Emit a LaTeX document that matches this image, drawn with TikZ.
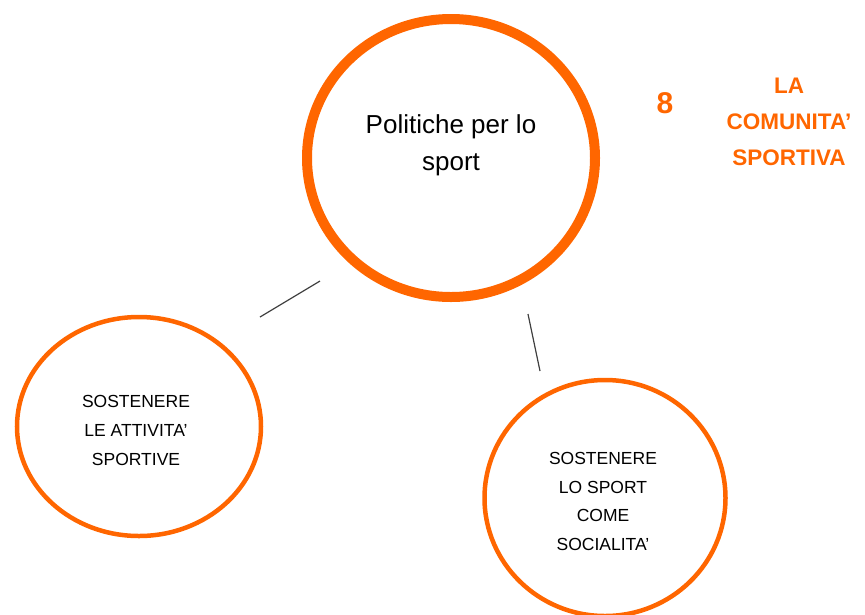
\documentclass[tikz,border=0pt]{standalone}
\usepackage{fontspec}
\setmainfont{Liberation Sans}
\usetikzlibrary{shapes.geometric}
\definecolor{orng}{HTML}{FF6600}
\tikzset{
  bubble/.style={ellipse, draw=orng, fill=white, inner sep=0pt},
  label/.style={align=center, anchor=base, text=black},
  link/.style={draw=black!75, line width=1.2pt},
  title/.style={text=orng, font=\bfseries\fontsize{22.5}{36}\selectfont, align=center, anchor=base}
}
\begin{document}
\begin{tikzpicture}[x=1pt,y=-1pt]
\useasboundingbox (0,0) rectangle (865,614);
\node[bubble, line width=10pt, minimum width=288pt, minimum height=278pt] (main) at (451,158) {};
\node[label, font=\fontsize{26}{37}\selectfont] (maintxt) at (451,170) {Politiche per lo\\sport};
\node[bubble, line width=4.5pt, minimum width=244pt, minimum height=219pt] (left) at (139,426.5) {};
\node[label, font=\fontsize{17.5}{29}\selectfont] (lefttxt) at (136,465) {SOSTENERE\\LE ATTIVITA’\\SPORTIVE};
\node[bubble, line width=4.5pt, minimum width=241pt, minimum height=236pt] (right) at (605,498) {};
\node[label, font=\fontsize{17.5}{28.5}\selectfont] (righttxt) at (603,550) {SOSTENERE\\LO SPORT\\COME\\SOCIALITA’};
\node[title, font=\bfseries\fontsize{30}{36}\selectfont] (num) at (665,113) {8};
\node[title] (ttl) at (789,165) {LA\\COMUNITA’\\SPORTIVA};
\coordinate (l1a) at (320,281);
\coordinate (l1b) at (260,317);
\coordinate (l2a) at (528,314);
\coordinate (l2b) at (540,371);
\draw[link] (l1a) -- (l1b);
\draw[link] (l2a) -- (l2b);
\end{tikzpicture}
\end{document}
